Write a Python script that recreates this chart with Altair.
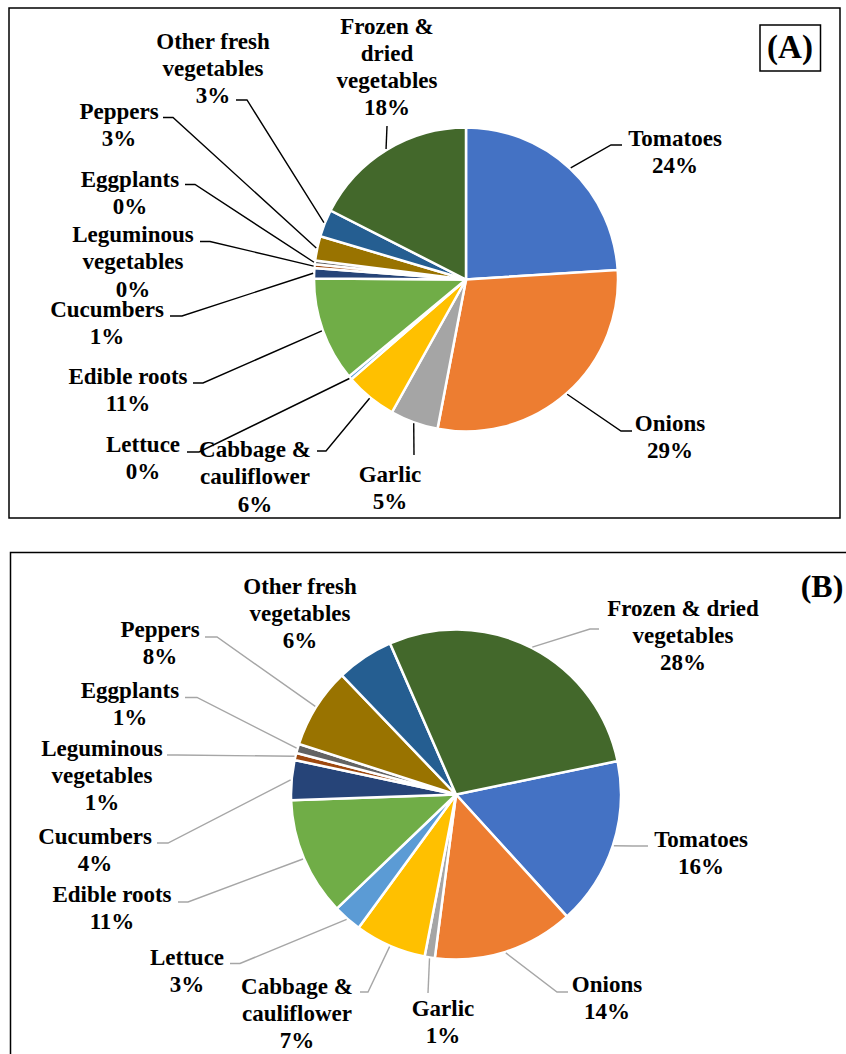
import math
import altair as alt
import pandas as pd

# ---------------- data ----------------
categories = ["Tomatoes", "Onions", "Garlic", "Cabbage & cauliflower", "Lettuce",
              "Edible roots", "Cucumbers", "Leguminous vegetables", "Eggplants",
              "Peppers", "Other fresh vegetables", "Frozen & dried vegetables"]
colors = ["#4472C4", "#ED7D31", "#A5A5A5", "#FFC000", "#5B9BD5", "#70AD47",
          "#264478", "#9E480E", "#636363", "#997300", "#255E91", "#43682B"]

# slice shares (%)
share_a = [24.0, 29.0, 5.1, 5.5, 0.4, 11.1, 1.1, 0.4, 0.4, 2.6, 2.9, 17.5]
share_b = [16.5, 13.8, 1.0, 7.0, 2.8, 11.6, 3.9, 0.7, 0.9, 7.9, 5.6, 28.3]
# printed percentages
pct_a = [24, 29, 5, 6, 0, 11, 1, 0, 0, 3, 3, 18]
pct_b = [16, 14, 1, 7, 3, 11, 4, 1, 1, 8, 6, 28]

# label wording (line breaks) per panel
words_a = [["Tomatoes"], ["Onions"], ["Garlic"], ["Cabbage &", "cauliflower"], ["Lettuce"],
           ["Edible roots"], ["Cucumbers"], ["Leguminous", "vegetables"], ["Eggplants"],
           ["Peppers"], ["Other fresh", "vegetables"], ["Frozen &", "dried", "vegetables"]]
words_b = [["Tomatoes"], ["Onions"], ["Garlic"], ["Cabbage &", "cauliflower"], ["Lettuce"],
           ["Edible roots"], ["Cucumbers"], ["Leguminous", "vegetables"], ["Eggplants"],
           ["Peppers"], ["Other fresh", "vegetables"], ["Frozen & dried", "vegetables"]]
panel_tags = ["(A)", "(B)"]

# ---------------- layout (pixels) ----------------
W, H = 846, 1054
FONT = "Liberation Serif, Times New Roman, Times, DejaVu Serif, serif"

geo_a = dict(cx=466, cy=279.5, r=152, start=0.0, lh=27.3)
geo_b = dict(cx=456, cy=794.5, r=165, start=78.3, lh=27.0)

# label text position (centre x, first line y) and leader start / elbow
place_a = [
    (675, 138.5, (622, 145), (611, 145)),
    (670, 423.5, (632, 431), (621, 431)),
    (390, 474.5, (414, 455), (414, 455)),
    (255, 450, (317, 451), (326, 451)),
    (143, 445, (187, 452), (199, 452)),
    (128, 377, (193, 383), (203, 383)),
    (107, 309.5, (170, 316), (182, 316)),
    (133, 235, (200, 241.5), (210, 241.5)),
    (130, 180, (185, 184.5), (195, 184.5)),
    (119, 111.5, (163, 117.5), (173, 117.5)),
    (213, 41.5, (236, 100), (247, 100)),
    (387, 26.5, (387, 126), (387, 126)),
]
place_b = [
    (701, 839.5, (648, 846), (633, 846)),
    (607, 985, (568, 992), (557, 992)),
    (443, 1008.5, (428, 993), (428, 993)),
    (297, 986.5, (360, 992), (368, 992)),
    (187, 957.5, (230, 963.5), (240, 963.5)),
    (112, 895, (178, 902), (188, 902)),
    (95, 836.5, (157, 843), (168, 843)),
    (102, 748.5, (167, 755), (177, 755)),
    (130, 691, (185, 697.5), (197, 697.5)),
    (160, 630, (205, 637), (217, 637)),
    (300, 586.5, None, None),
    (683, 608.5, (599, 629), (590, 629)),
]


def pie_layer(shares, g):
    df = pd.DataFrame({"cat": categories, "share": shares, "idx": list(range(len(categories)))})
    total = float(sum(shares))
    a0 = math.radians(g["start"])
    return alt.Chart(df).mark_arc(radius=g["r"], stroke="white", strokeWidth=2.5).encode(
        theta=alt.Theta("share:Q", stack=True,
                        scale=alt.Scale(domain=[0, total], range=[a0, a0 + 2 * math.pi],
                                        nice=False, zero=True)),
        order=alt.Order("idx:Q", sort="ascending"),
        color=alt.Color("cat:N", scale=alt.Scale(domain=categories, range=colors), legend=None),
        x=alt.value(g["cx"]),
        y=alt.value(g["cy"]),
    )


def leader_and_text(shares, pcts, words, places, g, panel):
    total = float(sum(shares))
    cum = 0.0
    lead_rows, text_rows = [], []
    for i, cat in enumerate(categories):
        mid = g["start"] + 360.0 * (cum + shares[i] / 2.0) / total
        cum += shares[i]
        tx, ty, p1, p2 = places[i]
        lines = words[i] + [f"{pcts[i]}%"]
        for j, t in enumerate(lines):
            text_rows.append({"t": t, "x": tx, "y": ty + j * g["lh"]})
        if p1 is not None:
            rad = math.radians(mid)
            ex = g["cx"] + (g["r"] + 1) * math.sin(rad)
            ey = g["cy"] - (g["r"] + 1) * math.cos(rad)
            key = f"{panel}-{i}"
            for k, (px, py) in enumerate([p1, p2, (ex, ey)]):
                lead_rows.append({"key": key, "pt": k, "x": px, "y": py})
    return pd.DataFrame(lead_rows), pd.DataFrame(text_rows)


def lines_layer(df, color):
    return alt.Chart(df).mark_line(color=color, strokeWidth=1.4).encode(
        x=alt.X("x:Q", scale=None, axis=None),
        y=alt.Y("y:Q", scale=None, axis=None),
        detail="key:N",
        order="pt:Q",
    )


def text_layer(df, size=23):
    return alt.Chart(df).mark_text(font=FONT, fontWeight="bold", fontSize=size, color="black",
                                   baseline="middle", align="center").encode(
        x=alt.X("x:Q", scale=None, axis=None),
        y=alt.Y("y:Q", scale=None, axis=None),
        text="t:N",
    )


one = pd.DataFrame({"k": [0]})


def frame(x1, y1, x2, y2, w=1.5):
    return alt.Chart(one).mark_rect(fill="white", fillOpacity=0, stroke="black", strokeWidth=w).encode(
        x=alt.value(x1), x2=alt.value(x2), y=alt.value(y1), y2=alt.value(y2))


lead_a, txt_a = leader_and_text(share_a, pct_a, words_a, place_a, geo_a, "A")
lead_b, txt_b = leader_and_text(share_b, pct_b, words_b, place_b, geo_b, "B")

tag_df = pd.DataFrame({"t": panel_tags, "x": [790, 822], "y": [48, 587]})
tag_a = alt.Chart(tag_df.iloc[[0]]).mark_text(font=FONT, fontWeight="bold", fontSize=33, color="black",
                                              baseline="middle", align="center").encode(
    x=alt.X("x:Q", scale=None, axis=None), y=alt.Y("y:Q", scale=None, axis=None), text="t:N")
tag_b = alt.Chart(tag_df.iloc[[1]]).mark_text(font=FONT, fontWeight="bold", fontSize=32, color="black",
                                              baseline="middle", align="center").encode(
    x=alt.X("x:Q", scale=None, axis=None), y=alt.Y("y:Q", scale=None, axis=None), text="t:N")

chart = alt.layer(
    frame(9, 8, 840, 518),
    frame(10.5, 552.5, 849, 1057),
    frame(760, 25, 820.5, 71),
    pie_layer(share_a, geo_a),
    pie_layer(share_b, geo_b),
    lines_layer(lead_a, "black"),
    lines_layer(lead_b, "#A6A6A6"),
    text_layer(txt_a),
    text_layer(txt_b),
    tag_a,
    tag_b,
).resolve_scale(theta="independent").properties(
    width=W, height=H, padding=0, background="white",
    autosize=alt.AutoSizeParams(type="none"),
).configure_view(strokeWidth=0)

chart.save("out.html", embed_options={"renderer": "svg", "actions": False})
